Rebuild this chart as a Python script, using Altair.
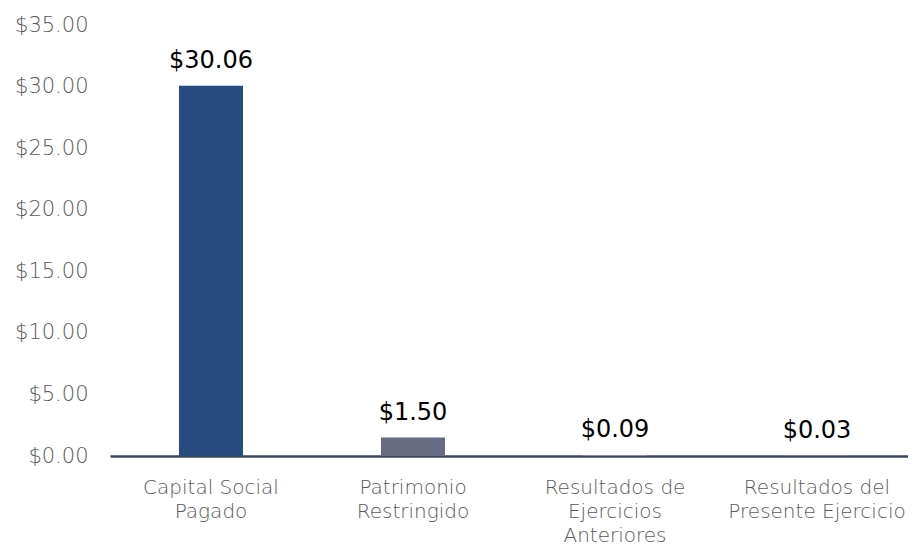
import altair as alt
import pandas as pd

categories = ["Capital Social Pagado", "Patrimonio Restringido",
              "Resultados de Ejercicios Anteriores", "Resultados del Presente Ejercicio"]
label_lines = ["Capital Social|Pagado", "Patrimonio|Restringido",
               "Resultados de|Ejercicios|Anteriores", "Resultados del|Presente Ejercicio"]
values = [30.06, 1.50, 0.09, 0.03]
colors = ["#284C80", "#676C84", "#8A8FA3", "#A5A9B8"]

df = pd.DataFrame({"cat": label_lines, "value": values, "color": colors,
                   "txt": ["$" + format(v, ".2f") for v in values]})

FONT = "DejaVu Sans"

x = alt.X("cat:N", sort=label_lines,
          scale=alt.Scale(range=[0, 808], paddingInner=0.683, paddingOuter=0.3415),
          axis=alt.Axis(title=None, labelAngle=0, ticks=False, domainColor="#3A475F",
                        domainWidth=2.5, labelColor="#595959", labelFontSize=20,
                        labelFont=FONT, labelFontWeight=300, labelPadding=21,
                        labelLineHeight=24, labelBaseline="top", labelLimit=400,
                        labelExpr="split(datum.label, '|')"))
y = alt.Y("value:Q", scale=alt.Scale(domain=[0, 35]),
          axis=alt.Axis(title=None, values=[0, 5, 10, 15, 20, 25, 30, 35], format="$.2f",
                        grid=False, domain=False, ticks=False, labelColor="#595959",
                        labelFontSize=21, labelFont=FONT, labelFontWeight=300,
                        labelPadding=22))

bars = alt.Chart(df).mark_bar().encode(x=x, y=y, color=alt.Color("color:N", scale=None))
text = alt.Chart(df).mark_text(baseline="bottom", dy=-13, fontSize=24, font=FONT,
                               color="#000000").encode(x=x, y=y, text="txt:N")

chart = (bars + text).properties(
    width=798, height=431,
    padding={"left": 102, "top": 17, "right": 0, "bottom": 98},
    autosize=alt.AutoSizeParams(type="none"),
).configure_view(stroke=None)

chart.save("out.html", embed_options={"renderer": "svg", "actions": False})
